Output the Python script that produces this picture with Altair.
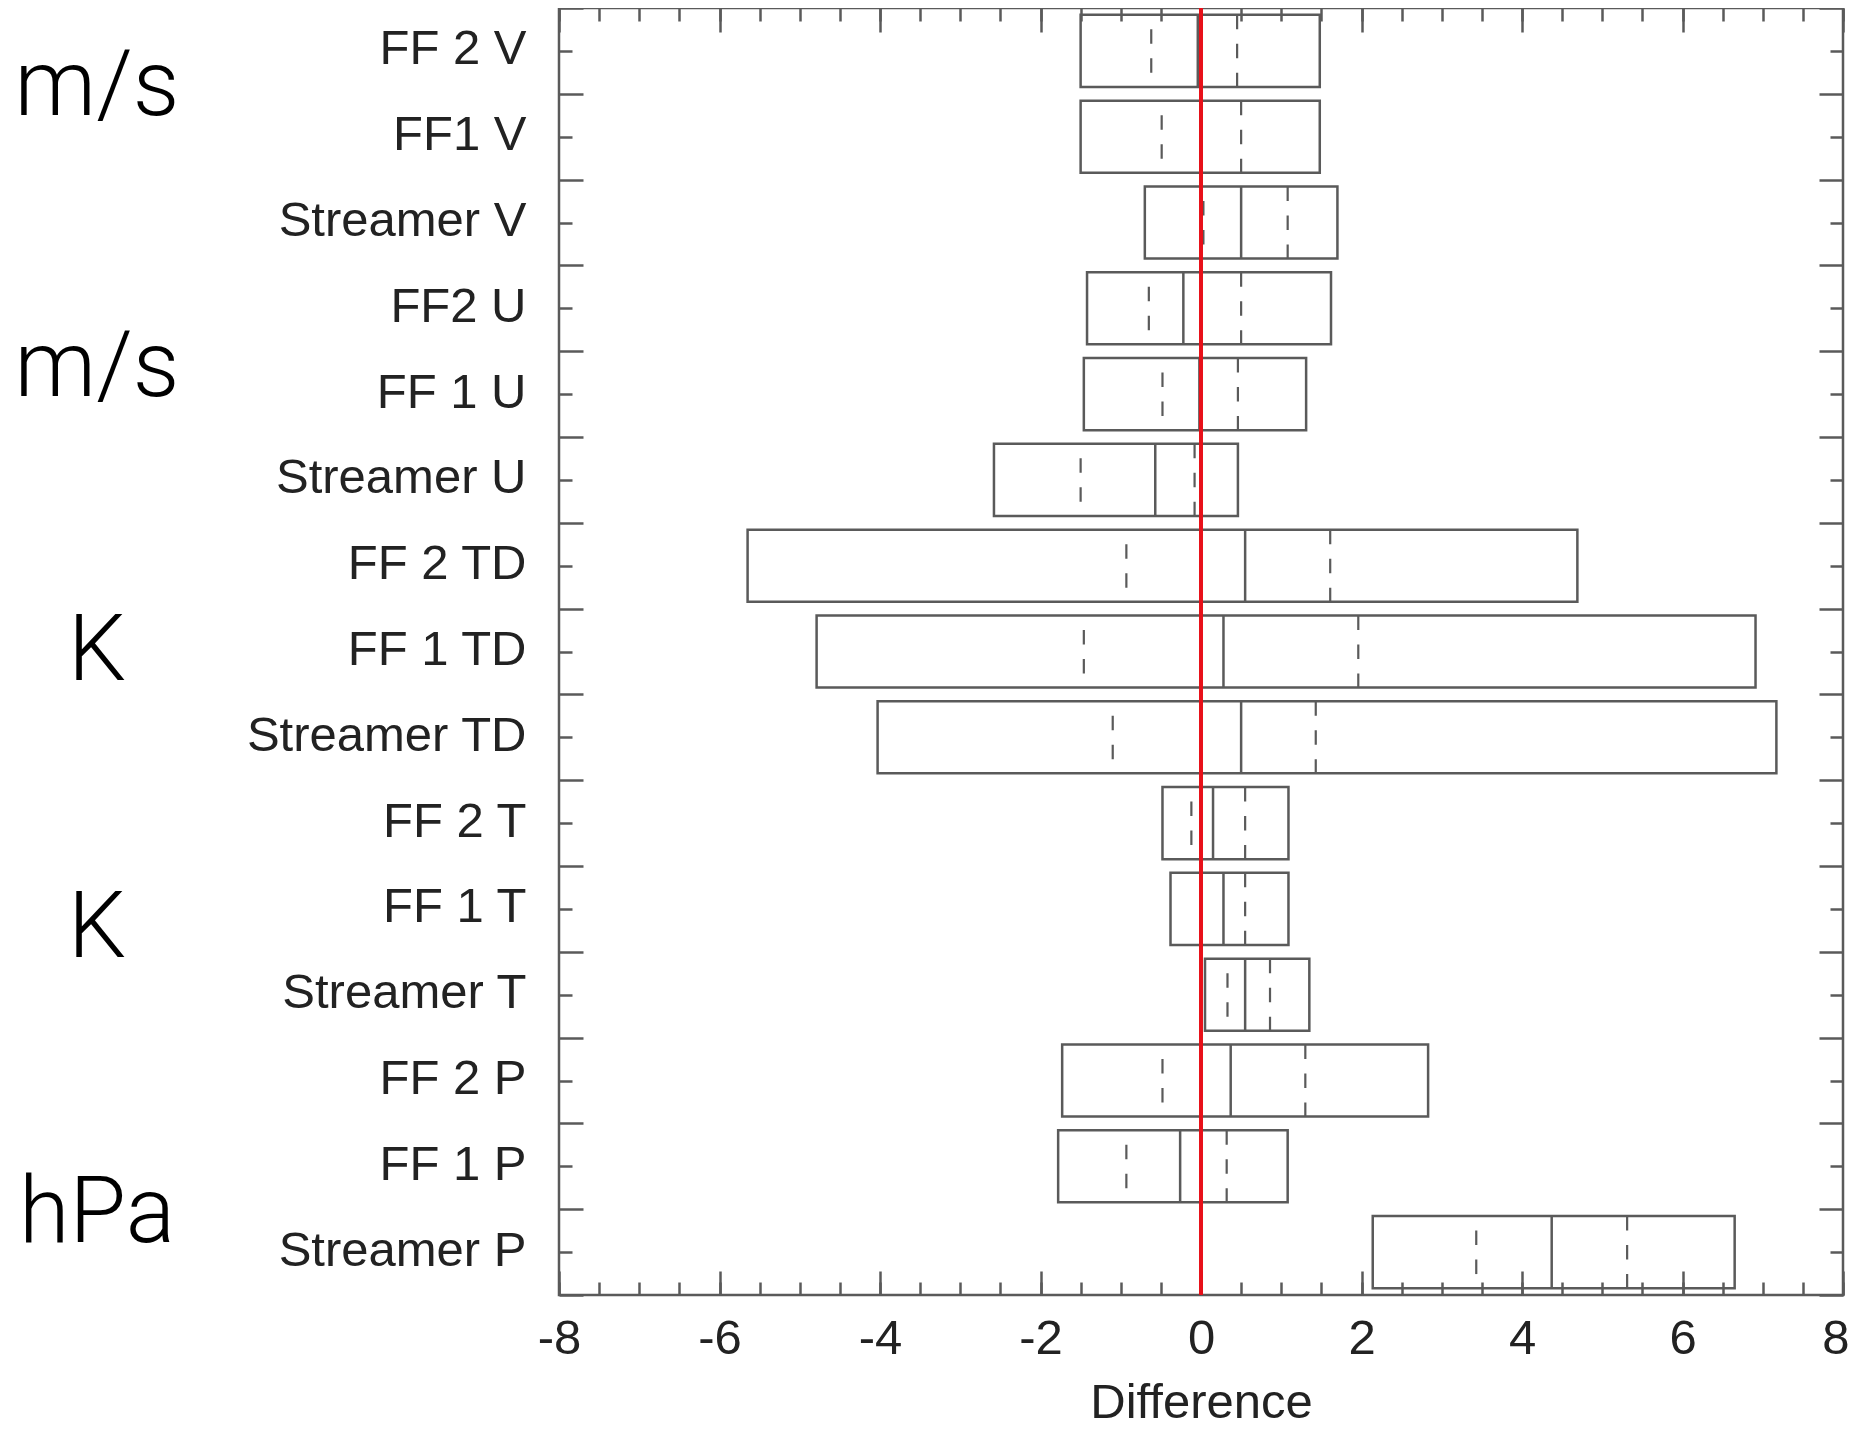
import altair as alt
import pandas as pd

# ---- data ----
categories = ["FF 2 V", "FF1 V", "Streamer V", "FF2 U", "FF 1 U", "Streamer U",
              "FF 2 TD", "FF 1 TD", "Streamer TD", "FF 2 T", "FF 1 T", "Streamer T",
              "FF 2 P", "FF 1 P", "Streamer P"]
box_low = [-1.50, -1.50, -0.70, -1.42, -1.46, -2.58, -5.65, -4.79, -4.03,
           -0.48, -0.38, 0.05, -1.73, -1.78, 2.14]
box_high = [1.48, 1.48, 1.70, 1.62, 1.31, 0.46, 4.69, 6.91, 7.17,
            1.09, 1.09, 1.35, 2.83, 1.08, 6.65]
median = [-0.04, 0.00, 0.50, -0.22, -0.02, -0.57, 0.55, 0.28, 0.50,
          0.15, 0.28, 0.55, 0.37, -0.26, 4.37]
dash_low = [-0.62, -0.49, 0.03, -0.65, -0.48, -1.50, -0.93, -1.46, -1.10,
            -0.12, 0.00, 0.33, -0.48, -0.93, 3.43]
dash_high = [0.45, 0.50, 1.08, 0.50, 0.46, -0.08, 1.61, 1.96, 1.43,
             0.55, 0.55, 0.86, 1.30, 0.32, 5.31]

x_major = [-8, -6, -4, -2, 0, 2, 4, 6, 8]
x_minor = [-8 + 0.5 * k for k in range(33)]

units = ["m/s", "m/s", "K", "K", "hPa"]
unit_rows = ["FF1 V", "FF 1 U", "FF 1 TD", "FF 1 T", "Streamer P"]
unit_dy = [-22, 2, 28, 48, -10]

# ---- styles ----
GRAY = "#5a5a5a"
TEXT = "#222222"
FONT = "Liberation Sans"
BOX_PAD = 0.08

n = len(categories)
df = pd.DataFrame({
    "cat": categories,
    "row": list(range(n)),
    "low": box_low,
    "high": box_high,
    "median": median,
    "dlow": dash_low,
    "dhigh": dash_high,
})
df["top"] = df["row"] + BOX_PAD
df["bot"] = df["row"] + 1 - BOX_PAD

row_edges = list(range(n + 1))
row_centers = [i + 0.5 for i in range(n)]

xs = alt.Scale(domain=[-8, 8], nice=False, zero=False)
ys = alt.Scale(domain=[0, n], reverse=True, nice=False, zero=False)

label_array = "[" + ",".join("'" + c + "'" for c in categories) + "]"


def tick_axis(orient, values, size):
    return alt.Axis(orient=orient, values=values, tickSize=size, offset=-size,
                    tickColor=GRAY, tickWidth=2.5, domain=False, grid=False,
                    labels=False, title=None)


def axis_layer(xaxis, yaxis):
    return alt.Chart(df).mark_point(opacity=0).encode(
        x=alt.X("low:Q", scale=xs, axis=xaxis),
        y=alt.Y("top:Q", scale=ys, axis=yaxis),
    )


x_label_axis = alt.Axis(
    orient="bottom", values=x_major[:-1], ticks=False, tickSize=0, domain=False, grid=False,
    labelExpr="toString(datum.value)", labelFont=FONT, labelFontSize=49,
    labelColor=TEXT, labelPadding=19, labelFlush=False, labelOverlap=False,
    title="Difference", titleFont=FONT, titleFontSize=49, titleFontWeight="normal",
    titleColor=TEXT, titlePadding=15,
)
x_last_label_axis = alt.Axis(
    orient="bottom", values=x_major[-1:], ticks=False, tickSize=0, domain=False, grid=False,
    labelExpr="toString(datum.value)", labelFont=FONT, labelFontSize=49,
    labelColor=TEXT, labelPadding=19, labelFlush=False, labelOverlap=False,
    labelAlign="right", labelOffset=6, title=None,
)
y_label_axis = alt.Axis(
    orient="left", values=row_centers, ticks=False, tickSize=0, domain=False, grid=False,
    labelExpr=label_array + "[floor(datum.value)]", labelFont=FONT, labelFontSize=49,
    labelColor=TEXT, labelPadding=33, labelOverlap=False, labelOffset=-2,
    labelLimit=0, title=None,
)

axes_layers = [
    axis_layer(tick_axis("bottom", x_major, 24), tick_axis("left", row_edges, 24)),
    axis_layer(tick_axis("bottom", x_minor, 13), tick_axis("left", row_centers, 13)),
    axis_layer(tick_axis("top", x_major, 24), tick_axis("right", row_edges, 24)),
    axis_layer(tick_axis("top", x_minor, 13), tick_axis("right", row_centers, 13)),
    axis_layer(x_label_axis, y_label_axis),
    axis_layer(x_last_label_axis, None),
]

boxes = alt.Chart(df).mark_rect(fill="white", fillOpacity=0, stroke=GRAY, strokeWidth=2.5).encode(
    x=alt.X("low:Q", scale=xs, axis=None), x2="high:Q",
    y=alt.Y("top:Q", scale=ys, axis=None), y2="bot:Q",
)
medians = alt.Chart(df).mark_rule(color=GRAY, strokeWidth=2.5).encode(
    x=alt.X("median:Q", scale=xs, axis=None),
    y=alt.Y("top:Q", scale=ys, axis=None), y2="bot:Q",
)
dashes_low = alt.Chart(df).mark_rule(color=GRAY, strokeWidth=2.2, strokeDash=[14.5, 14.5],
                                     strokeDashOffset=14.5).encode(
    x=alt.X("dlow:Q", scale=xs, axis=None),
    y=alt.Y("top:Q", scale=ys, axis=None), y2="bot:Q",
)
dashes_high = alt.Chart(df).mark_rule(color=GRAY, strokeWidth=2.2, strokeDash=[14.5, 14.5]).encode(
    x=alt.X("dhigh:Q", scale=xs, axis=None),
    y=alt.Y("top:Q", scale=ys, axis=None), y2="bot:Q",
)
zero_line = alt.Chart(df).mark_rule(color="#e8101a", strokeWidth=2.5).encode(
    x=alt.X(datum=0, scale=xs, axis=None),
)

unit_layers = []
for u, r, dy in zip(units, unit_rows, unit_dy):
    udf = pd.DataFrame({"unit": [u], "pos": [categories.index(r) + 0.5]})
    unit_layers.append(
        alt.Chart(udf).mark_text(font="Roboto", fontWeight=300, fontSize=92, color="black",
                                 align="center", baseline="alphabetic", dy=dy).encode(
            x=alt.value(-462),
            y=alt.Y("pos:Q", scale=ys, axis=None),
            text="unit:N",
        )
    )

chart = alt.layer(
    *axes_layers, boxes, medians, dashes_low, dashes_high, zero_line, *unit_layers
).resolve_axis(
    x="independent", y="independent"
).properties(
    width=1284, height=1287,
    autosize=alt.AutoSizeParams(type="none"),
    padding={"left": 551, "top": 0, "right": 7, "bottom": 134},
    background="white",
).configure_view(stroke=GRAY, strokeWidth=2.5)

chart.save("out.html", embed_options={"renderer": "svg", "actions": False})
